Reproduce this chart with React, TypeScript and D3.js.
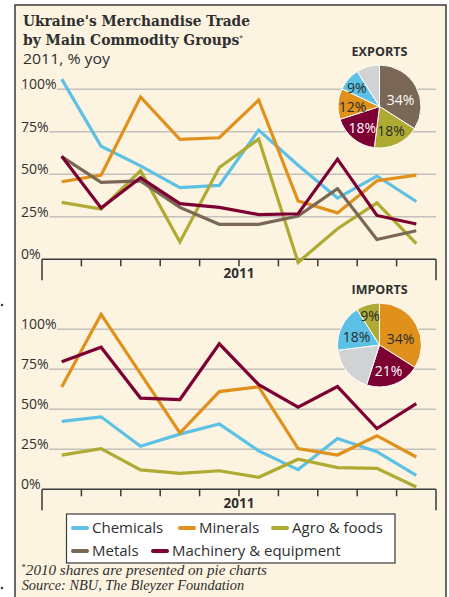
import React from "react";
import * as d3 from "d3";

const months = ["Mar", "Apr", "May", "Jun", "Jul", "Aug", "Sep", "Oct", "Nov", "Dec"];
const yTicks = [0, 25, 50, 75, 100];
const yTickLabels = ["0%", "25%", "50%", "75%", "100%"];
const yearLabel = "2011";

const categories = ["Chemicals", "Minerals", "Agro & foods", "Metals", "Machinery & equipment"];
const categoryColors = ["#5CC1E5", "#E0911B", "#AFAA31", "#7B6755", "#7D0033"];
const otherLabel = "Other";
const otherColor = "#D1D2D4";

// Exports, % yoy
const chemicalsExp = [106, 66.5, 55, 42.2, 43.5, 76, 55.3, 36, 49, 34];
const mineralsExp = [45.6, 49.5, 95.5, 70.5, 71.5, 93.7, 34.3, 27.3, 46.2, 49.5];
const agroExp = [33.5, 29.5, 52.1, 10.2, 54, 70.7, -1.8, 18, 33.2, 9.2];
const metalsExp = [60.4, 45.2, 46.1, 30.5, 20.6, 20.6, 25.4, 41.6, 11.6, 16.8];
const machineryExp = [60.6, 30.2, 48, 32.7, 30.5, 26.3, 26.8, 58.9, 25.8, 20.8];

// Imports, % yoy
const chemicalsImp = [42.5, 45.3, 26.9, 34.5, 40.9, 24, 12.3, 31.8, 23.5, 8.7];
const mineralsImp = [64, 109.4, 72.3, 35.2, 61.1, 64, 25.4, 21.4, 33.5, 20.2];
const agroImp = [21.4, 25.4, 12.1, 10, 11.6, 7.5, 18.8, 13.6, 13.1, 1.4];
const machineryImp = [79.7, 88.8, 57, 56.1, 90.9, 65.4, 51.3, 64.2, 38, 53.6];

// 2010 shares (pie charts), clockwise from 12 o'clock
const exportPieCats = ["Metals", "Agro & foods", "Machinery & equipment", "Minerals", "Chemicals", "Other"];
const exportPieShares = [34, 18, 18, 12, 9, 9];
const importPieCats = ["Minerals", "Machinery & equipment", "Other", "Chemicals", "Agro & foods"];
const importPieShares = [34, 21, 18, 18, 9];

const FONT = "'Open Sans', 'Noto Sans', sans-serif";
const TEXT = "#2f2f2f";
const BG = "#FCF3E0";

const colorOf = (c: string) =>
  c === otherLabel ? otherColor : categoryColors[categories.indexOf(c)];

function LinePanel({
  series,
  y0,
  y100,
}: {
  series: { cat: string; values: number[] }[];
  y0: number;
  y100: number;
}) {
  const x = d3.scaleBand<string>().domain(months).range([42, 436]);
  const y = d3.scaleLinear().domain([0, 100]).range([y0, y100]);
  const bw = x.bandwidth();
  const line = d3
    .line<number>()
    .x((_, i) => (x(months[i]) as number) + bw / 2)
    .y((v) => y(v));
  const bounds = months.map((m) => x(m) as number).concat([436]);
  return (
    <g>
      {yTicks.map((t) =>
        t === 0 ? null : (
          <line key={"g" + t} x1={21} x2={436} y1={y(t)} y2={y(t)} stroke="#C3C1BC" strokeWidth={1.5} />
        )
      )}
      {yTicks.map((t, i) => (
        <text
          key={"l" + t}
          x={21}
          y={y(t)}
          fontFamily={FONT}
          fontSize={14}
          fill={TEXT}
          stroke={BG}
          strokeWidth={4}
          paintOrder="stroke"
        >
          {yTickLabels[i]}
        </text>
      ))}
      <line x1={42} x2={436} y1={y(0)} y2={y(0)} stroke="#3a3a3a" strokeWidth={1.5} />
      {bounds.map((bx, i) => {
        const end = i === 0 || i === bounds.length - 1;
        return (
          <line
            key={"t" + i}
            x1={bx}
            x2={bx}
            y1={y(0)}
            y2={y(0) + (end ? 21 : 7)}
            stroke="#3a3a3a"
            strokeWidth={1.5}
          />
        );
      })}
      <text
        x={(42 + 436) / 2}
        y={y(0) + 19}
        textAnchor="middle"
        fontFamily={FONT}
        fontWeight="bold"
        fontSize={13.5}
        fill={TEXT}
      >
        {yearLabel}
      </text>
      {series.map((s) => (
        <path
          key={s.cat}
          d={line(s.values) as string}
          fill="none"
          stroke={colorOf(s.cat)}
          strokeWidth={3.2}
          strokeLinejoin="miter"
        />
      ))}
    </g>
  );
}

function Pie({
  cats,
  shares,
  cx,
  cy,
  r,
  title,
  nudges,
}: {
  cats: string[];
  shares: number[];
  cx: number;
  cy: number;
  r: number;
  title: string;
  nudges: Record<string, [number, number]>;
}) {
  const arcs = d3.pie<number>().sort(null)(shares);
  const arc = d3.arc<d3.PieArcDatum<number>>().innerRadius(0).outerRadius(r);
  const labelArc = d3.arc<d3.PieArcDatum<number>>().innerRadius(27).outerRadius(27);
  return (
    <g>
      <text
        x={cx}
        y={cy - r - 9}
        textAnchor="middle"
        fontFamily={FONT}
        fontWeight="bold"
        fontSize={13}
        fill={TEXT}
        textLength={56}
        lengthAdjust="spacingAndGlyphs"
      >
        {title}
      </text>
      <g transform={`translate(${cx},${cy})`}>
        {arcs.map((a, i) => (
          <path key={i} d={arc(a) as string} fill={colorOf(cats[i])} stroke="#ffffff" strokeWidth={1} />
        ))}
        {arcs.map((a, i) => {
          if (cats[i] === otherLabel) return null;
          const [lx, ly] = labelArc.centroid(a);
          const n = nudges[cats[i]] || [0, 0];
          const dark = cats[i] === "Metals" || cats[i] === "Machinery & equipment";
          return (
            <text
              key={"l" + i}
              x={lx + n[0]}
              y={ly + n[1]}
              textAnchor="middle"
              dominantBaseline="central"
              fontFamily={FONT}
              fontSize={14}
              fill={dark ? "#ffffff" : "#2a2a2a"}
            >
              {shares[i] + "%"}
            </text>
          );
        })}
      </g>
    </g>
  );
}

export default function App() {
  const expSeries = [
    { cat: "Chemicals", values: chemicalsExp },
    { cat: "Minerals", values: mineralsExp },
    { cat: "Agro & foods", values: agroExp },
    { cat: "Metals", values: metalsExp },
    { cat: "Machinery & equipment", values: machineryExp },
  ];
  const impSeries = [
    { cat: "Chemicals", values: chemicalsImp },
    { cat: "Minerals", values: mineralsImp },
    { cat: "Agro & foods", values: agroImp },
    { cat: "Machinery & equipment", values: machineryImp },
  ];
  const legendRows = [
    [
      { cat: categories[0], x: 73 },
      { cat: categories[1], x: 180 },
      { cat: categories[2], x: 273 },
    ],
    [
      { cat: categories[3], x: 73 },
      { cat: categories[4], x: 153 },
    ],
  ];
  return (
    <svg
      width={449}
      height={597}
      style={{ position: "absolute", left: 0, top: 0, background: "#ffffff" }}
    >
      <rect x={15} y={5} width={431} height={600} fill={BG} stroke="#3a3a3a" strokeWidth={1.5} />
      <circle cx={2} cy={305} r={1.2} fill="#333" />
      <circle cx={2} cy={588} r={1.2} fill="#333" />

      <text x={23} y={26} fontFamily="'DejaVu Serif', serif" fontWeight="bold" fontSize={15.5} fill={TEXT} textLength={227} lengthAdjust="spacingAndGlyphs">
        Ukraine's Merchandise Trade
      </text>
      <text x={23} y={45} fontFamily="'DejaVu Serif', serif" fontWeight="bold" fontSize={15.5} fill={TEXT} textLength={220} lengthAdjust="spacingAndGlyphs">
        <tspan>by Main Commodity Groups</tspan>
        <tspan dy={-5.5} fontSize={7.5} fontFamily={FONT} fontWeight="normal">*</tspan>
      </text>
      <text x={23} y={64} fontFamily={FONT} fontSize={14} fill={TEXT} textLength={87} lengthAdjust="spacingAndGlyphs">
        2011, % yoy
      </text>

      <LinePanel series={expSeries} y0={259.3} y100={89.3} />
      <LinePanel series={impSeries} y0={489.3} y100={329.3} />

      <Pie
        cats={exportPieCats}
        shares={exportPieShares}
        cx={379.5}
        cy={106.5}
        r={41.5}
        title="EXPORTS"
        nudges={{ Metals: [-2.5, 6], Chemicals: [-2.5, -1.5], Minerals: [0, 2] }}
      />
      <Pie
        cats={importPieCats}
        shares={importPieShares}
        cx={379.5}
        cy={345}
        r={42}
        title="IMPORTS"
        nudges={{ Minerals: [-2.5, 6.3], Chemicals: [1.5, 3], "Agro & foods": [-2, -4] }}
      />

      <rect x={66.5} y={514} width={328.5} height={49} fill="#ffffff" stroke="#3a3a3a" strokeWidth={1.2} />
      {legendRows.map((row, ri) =>
        row.map((it) => (
          <g key={it.cat}>
            <line
              x1={it.x}
              x2={it.x + 14}
              y1={528 + ri * 23}
              y2={528 + ri * 23}
              stroke={colorOf(it.cat)}
              strokeWidth={4}
              strokeLinecap="round"
            />
            <text x={it.x + 19} y={533 + ri * 23} fontFamily={FONT} fontSize={15} fill={TEXT}>
              {it.cat}
            </text>
          </g>
        ))
      )}

      <text x={21.5} y={575} fontFamily="'Liberation Serif', serif" fontStyle="italic" fontSize={14} fill={TEXT} textLength={245.5} lengthAdjust="spacingAndGlyphs">
        <tspan dy={-5} fontSize={8} fontStyle="normal">*</tspan>
        <tspan dy={5}>2010 shares are presented on pie charts</tspan>
      </text>
      <text x={21.7} y={590} fontFamily="'Liberation Serif', serif" fontStyle="italic" fontSize={14} fill={TEXT} textLength={222.5} lengthAdjust="spacingAndGlyphs">
        Source: NBU, The Bleyzer Foundation
      </text>
    </svg>
  );
}
